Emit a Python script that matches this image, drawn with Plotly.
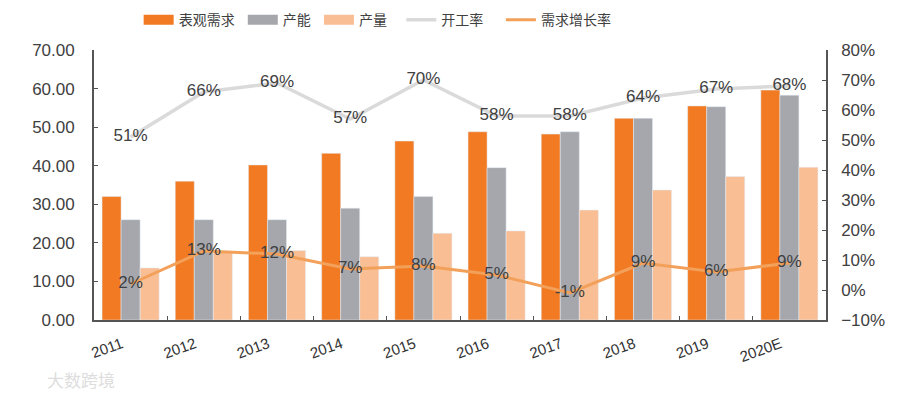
import plotly.graph_objects as go

years = ['2011', '2012', '2013', '2014', '2015', '2016', '2017', '2018', '2019', '2020E']
demand = [32.0, 36.0, 40.2, 43.2, 46.4, 48.8, 48.2, 52.3, 55.5, 59.6]
capacity = [26.0, 26.0, 26.0, 29.0, 32.0, 39.5, 48.8, 52.3, 55.3, 58.3]
output = [13.5, 17.7, 18.0, 16.4, 22.5, 23.1, 28.5, 33.7, 37.2, 39.6]
utilization = [51, 66, 69, 57, 70, 58, 58, 64, 67, 68]
growth = [2, 13, 12, 7, 8, 5, -1, 9, 6, 9]

C_DEM = '#F27A22'
C_CAP = '#A5A7AC'
C_OUT = '#F9BE94'
C_UTIL = '#DADADA'
C_GROW = '#F2A05A'
TXT = '#404040'
FONT = 'Liberation Sans, Arial, Noto Sans CJK SC'

fig = go.Figure()
fig.add_trace(go.Bar(x=years, y=demand, name='表观需求', marker_color=C_DEM, showlegend=False))
fig.add_trace(go.Bar(x=years, y=capacity, name='产能', marker_color=C_CAP, showlegend=False))
fig.add_trace(go.Bar(x=years, y=output, name='产量', marker_color=C_OUT, showlegend=False))

fig.add_trace(go.Scatter(x=years, y=utilization, yaxis='y2', mode='lines',
                         line=dict(color=C_UTIL, width=3.5), showlegend=False))
fig.add_trace(go.Scatter(x=years, y=growth, yaxis='y2', mode='lines',
                         line=dict(color=C_GROW, width=3), showlegend=False))
fig.add_trace(go.Scatter(x=years, y=utilization, yaxis='y2', mode='text',
                         text=[f'{v}%' for v in utilization], textposition='middle center',
                         textfont=dict(size=17, color=TXT), showlegend=False))
fig.add_trace(go.Scatter(x=years, y=growth, yaxis='y2', mode='text',
                         text=[f'{v}%' for v in growth], textposition='middle center',
                         textfont=dict(size=17, color=TXT), showlegend=False))

# legend entries
NB = '\u00a0'
for name, col, w in [('表观需求' + NB, C_DEM, 11), ('产能' + NB, C_CAP, 11),
                     ('产量' + NB * 3, C_OUT, 11),
                     ('开工率' + NB * 4, C_UTIL, 3.5), ('需求增长率', C_GROW, 3)]:
    fig.add_trace(go.Scatter(x=[None], y=[None], mode='lines', name=name,
                             line=dict(color=col, width=w), showlegend=True))

fig.update_layout(
    width=900, height=395,
    margin=dict(l=94, r=74, t=50, b=75, autoexpand=False),
    paper_bgcolor='white', plot_bgcolor='white',
    font=dict(family=FONT, color=TXT),
    barmode='group', bargap=0.22, bargroupgap=0,
    legend=dict(orientation='h', x=0.061, xanchor='left', yref='container', y=0.949,
                yanchor='middle',
                font=dict(size=14, color=TXT, family='Noto Sans CJK SC'),
                itemwidth=30, traceorder='normal', tracegroupgap=0),
    xaxis=dict(type='category', showline=True, linecolor='#555555', linewidth=1.5,
               ticks='inside', tickson='boundaries', ticklen=4, tickcolor='#555555',
               tickangle=-20, tickfont=dict(size=15, color='#333333'), showgrid=False,
               ticklabelstandoff=8, ticklabelshift=-9),
    yaxis=dict(range=[0, 70], dtick=10, tickformat='.2f', ticksuffix=NB * 3, showline=True,
               linecolor='#555555', linewidth=1.5, ticks='inside', ticklen=4,
               tickcolor='#555555', showgrid=False,
               zeroline=False, tickfont=dict(size=17, color=TXT)),
    yaxis2=dict(range=[-10, 80], dtick=10, ticksuffix='%', overlaying='y', side='right',
                showline=True, linecolor='#555555', linewidth=1.5, ticks='inside', ticklen=4,
                tickcolor='#555555', showgrid=False, zeroline=False,
                tickfont=dict(size=17, color=TXT), ticklabelstandoff=10),
    annotations=[dict(text='大数跨境', xref='paper', yref='paper', x=-0.067, y=-0.222,
                      xanchor='left', yanchor='middle', showarrow=False,
                      font=dict(size=17, color='#DDDDDD', family='Noto Sans CJK SC'))],
)

fig.write_html('out.html', config={'displayModeBar': False},
               post_script="document.body.style.margin='0';document.body.style.padding='0';")
